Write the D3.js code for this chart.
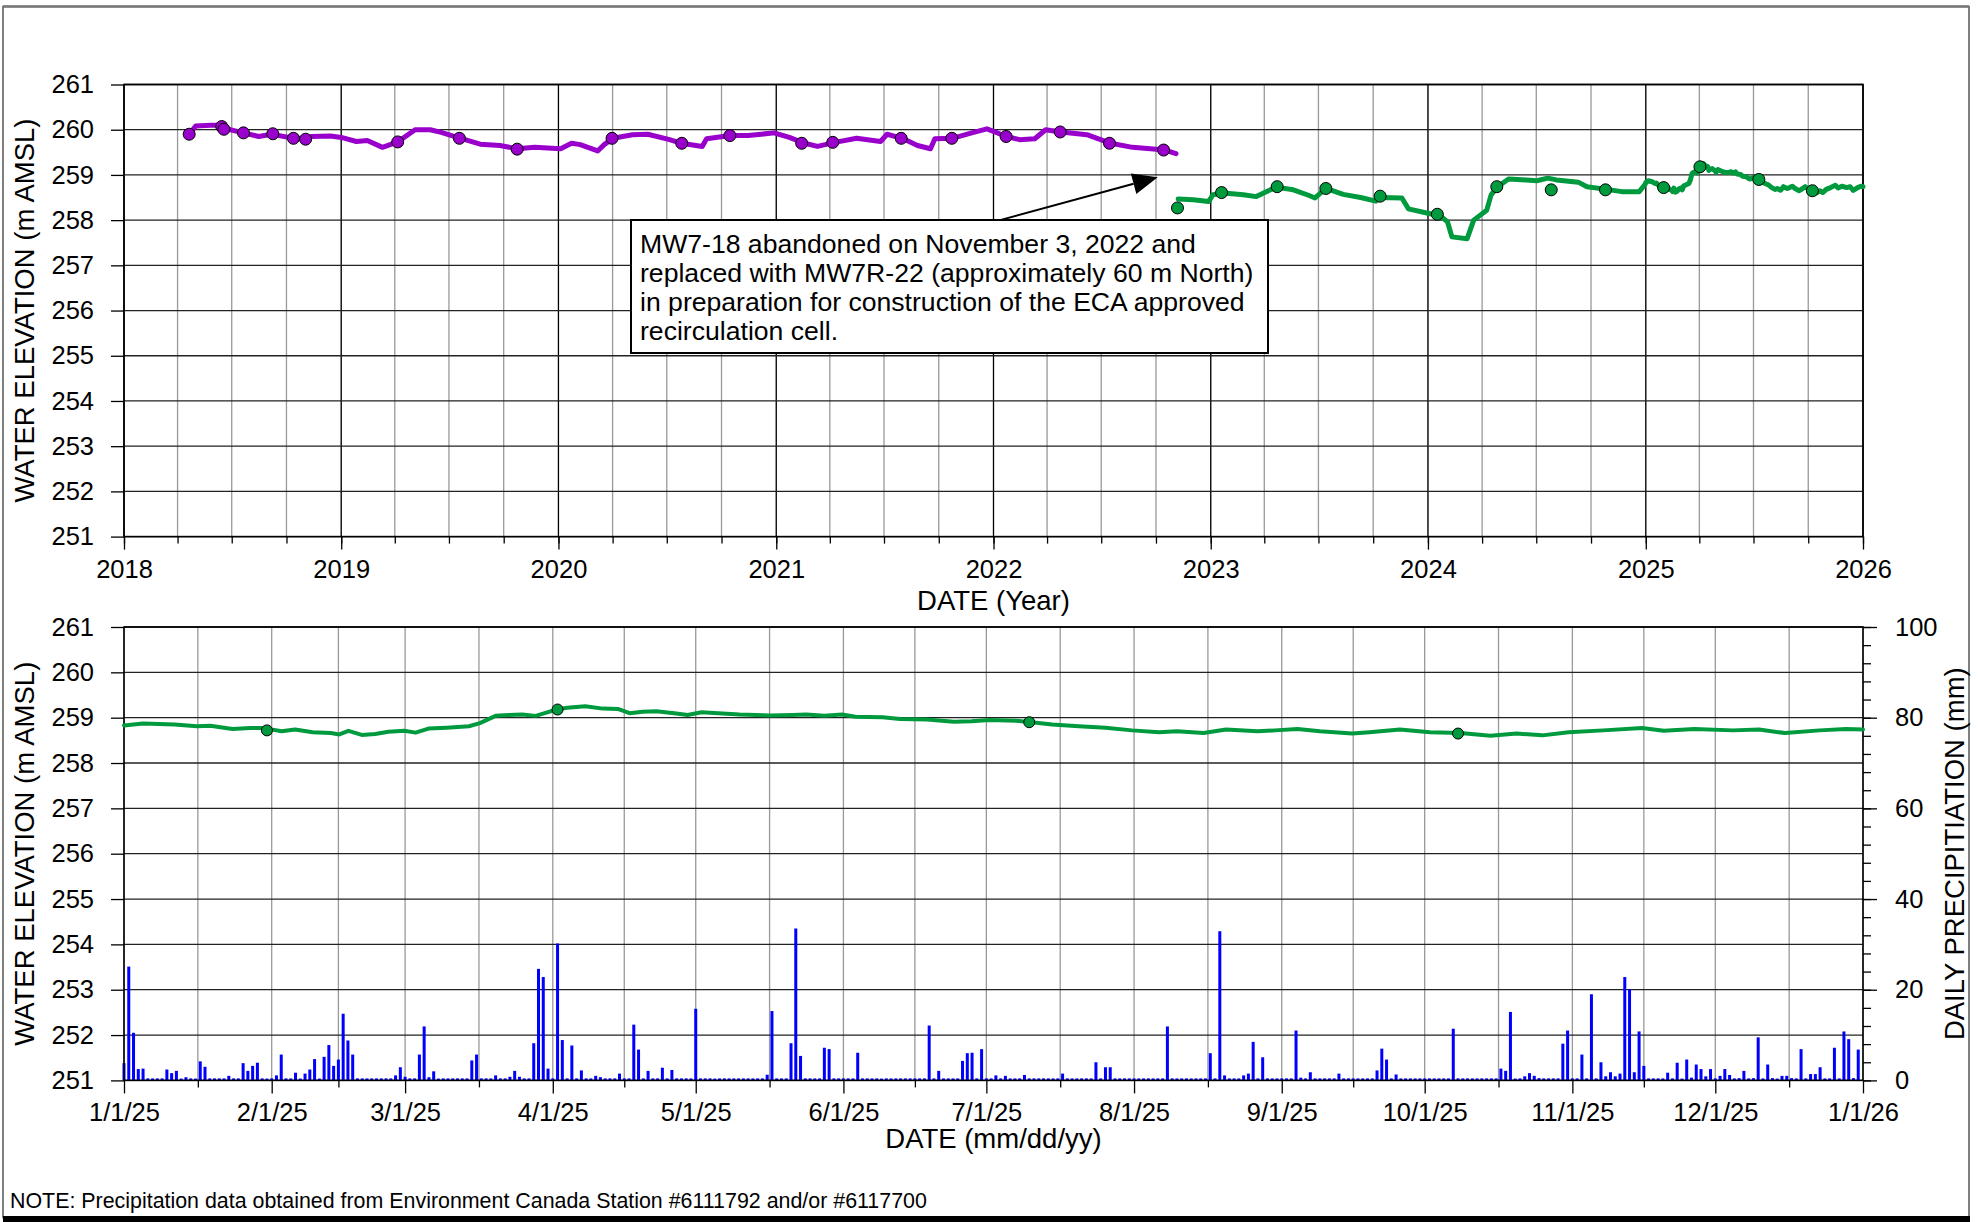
<!DOCTYPE html>
<html>
<head>
<meta charset="utf-8">
<script src="https://cdn.jsdelivr.net/npm/d3@7"></script>
<style>
  body { margin: 0; background: #fff; }
  text { font-family: "Liberation Sans", Arial, sans-serif; fill: #000; }
</style>
</head>
<body>
<svg id="chart" width="1979" height="1222"></svg>
<script>
// ---- data ----
// MW7-18 (decimal year, m AMSL)
var mw7Years = [2018.30, 2018.33, 2018.40, 2018.45, 2018.47, 2018.55, 2018.62, 2018.68, 2018.77, 2018.83,
    2018.86, 2018.95, 2019.00, 2019.07, 2019.12, 2019.19, 2019.26, 2019.34, 2019.41, 2019.46,
    2019.55, 2019.64, 2019.73, 2019.81, 2019.89, 2020.01, 2020.06, 2020.10, 2020.18, 2020.21,
    2020.25, 2020.34, 2020.41, 2020.51, 2020.565, 2020.66, 2020.68, 2020.79, 2020.87, 2020.99,
    2021.06, 2021.13, 2021.19, 2021.27, 2021.37, 2021.48, 2021.51, 2021.58, 2021.65, 2021.71,
    2021.73, 2021.81, 2021.90, 2021.97, 2022.06, 2022.12, 2022.19, 2022.24, 2022.31, 2022.43,
    2022.54, 2022.64, 2022.79, 2022.84];
var mw7Levels = [259.90, 260.08, 260.10, 260.10, 260.02, 259.93, 259.85, 259.90, 259.82, 259.80,
    259.85, 259.86, 259.83, 259.74, 259.76, 259.61, 259.73, 260.00, 260.00, 259.94,
    259.81, 259.68, 259.65, 259.58, 259.61, 259.58, 259.70, 259.67, 259.53, 259.67,
    259.81, 259.89, 259.90, 259.78, 259.70, 259.63, 259.80, 259.87, 259.87, 259.93,
    259.83, 259.70, 259.63, 259.72, 259.81, 259.74, 259.90, 259.81, 259.65, 259.58,
    259.80, 259.81, 259.93, 260.02, 259.85, 259.78, 259.80, 260.00, 259.95, 259.89,
    259.70, 259.61, 259.55, 259.47];
var mw7MarkYears = [2018.30, 2018.45, 2018.46, 2018.55, 2018.685, 2018.78, 2018.836, 2019.26, 2019.544, 2019.81,
    2020.246, 2020.566, 2020.787, 2021.117, 2021.26, 2021.575, 2021.808, 2022.058, 2022.307, 2022.534, 2022.783];
var mw7MarkLevels = [259.90, 260.07, 260.01, 259.93, 259.91, 259.81, 259.79, 259.73, 259.81, 259.57,
    259.81, 259.70, 259.87, 259.70, 259.72, 259.81, 259.81, 259.85, 259.95, 259.70, 259.55];

// MW7R-22 before 2025 (decimal year, m AMSL)
var mw7rYears = [2022.85, 2022.92, 2022.99, 2023.01, 2023.06, 2023.15, 2023.21, 2023.30, 2023.38, 2023.45,
    2023.48, 2023.53, 2023.61, 2023.69, 2023.76, 2023.78, 2023.88, 2023.91, 2024.01, 2024.05,
    2024.09, 2024.11, 2024.18, 2024.21, 2024.27, 2024.29, 2024.32, 2024.37, 2024.45, 2024.50,
    2024.55, 2024.59, 2024.69, 2024.73, 2024.82, 2024.89, 2024.97, 2024.998];
var mw7rLevels = [258.47, 258.45, 258.41, 258.56, 258.60, 258.56, 258.52, 258.73, 258.67, 258.55,
    258.49, 258.70, 258.57, 258.50, 258.42, 258.50, 258.49, 258.25, 258.14, 258.12,
    257.96, 257.63, 257.59, 258.00, 258.22, 258.56, 258.74, 258.91, 258.89, 258.87,
    258.93, 258.89, 258.84, 258.74, 258.68, 258.63, 258.63, 258.80];
var mw7rMarkYears = [2022.847, 2023.05, 2023.306, 2023.53, 2023.78, 2024.043, 2024.316, 2024.566, 2024.815];
var mw7rMarkLevels = [258.27, 258.61, 258.74, 258.70, 258.53, 258.13, 258.74, 258.67, 258.67];

// MW7R-22 in 2025 (days after 1/1/25, m AMSL)
var levelDays = [0, 4, 10.6, 15.3, 18.1, 22.8, 26.5, 29.3, 33.1, 35.9, 39.6, 43.4, 45.2, 47.1, 49.9, 52.7,
    55.5, 58.8, 61.2, 63.9, 67.7, 72.4, 74.7, 78, 80.8, 83.6, 86.4, 88.3, 90.8, 93, 96.8, 100.5,
    103.8, 106.1, 108.9, 111.7, 115.5, 118.3, 121.2, 129.2, 135.7, 140.4, 143.2, 147, 150.7, 153.5,
    159.2, 162.9, 168.5, 174.2, 177.9, 181.6, 187.3, 190.5, 194.8, 200.4, 206, 211.6, 217.2, 221,
    226.6, 231.3, 237.9, 241.6, 246.3, 251, 257.8, 261.4, 267.8, 274.1, 280.5, 286.8, 292.3, 297.7,
    303.2, 310.5, 318.6, 323.2, 329.6, 337.7, 343.2, 348.6, 355.9, 361.4, 365];
var levels2025 = [258.83, 258.87, 258.85, 258.81, 258.82, 258.75, 258.77, 258.77, 258.70, 258.74, 258.68, 258.66, 258.63, 258.71, 258.62, 258.64,
    258.69, 258.71, 258.67, 258.76, 258.78, 258.81, 258.88, 259.04, 259.06, 259.07, 259.04, 259.10, 259.18, 259.22, 259.25, 259.20,
    259.19, 259.10, 259.13, 259.14, 259.10, 259.06, 259.12, 259.07, 259.05, 259.06, 259.07, 259.04, 259.07, 259.02,
    259.01, 258.97, 258.96, 258.91, 258.92, 258.95, 258.93, 258.90, 258.85, 258.81, 258.78, 258.72, 258.68, 258.70,
    258.66, 258.74, 258.70, 258.72, 258.75, 258.70, 258.65, 258.68, 258.74, 258.68, 258.66, 258.60, 258.65, 258.61,
    258.68, 258.72, 258.77, 258.71, 258.75, 258.72, 258.74, 258.66, 258.72, 258.75, 258.74];
var markDays = [30, 91, 190, 280];
var markLevels2025 = [258.72, 259.18, 258.90, 258.65];

// daily precipitation 2025 (days after 1/1/25 with rain, mm); other days are 0
var rainDays = [0, 1, 2, 3, 4, 9, 10, 11, 12, 13, 15, 16, 17, 22, 25, 26, 27, 28, 30, 32, 33, 36, 37, 38, 39,
    40, 41, 42, 43, 44, 45, 46, 47, 48, 57, 58, 59, 62, 63, 64, 65, 66, 73, 74, 78, 81, 82, 83, 86, 87,
    88, 89, 91, 92, 94, 96, 99, 100, 104, 107, 108, 110, 113, 115, 120, 124, 135, 136, 140, 141, 142, 147,
    148, 154, 159, 169, 171, 176, 177, 178, 180, 183, 185, 189, 197, 204, 206, 207, 219, 228, 230, 231,
    235, 236, 237, 239, 246, 247, 249, 255, 263, 264, 265, 267, 279, 289, 290, 291, 292, 294, 295, 296,
    297, 302, 303, 306, 308, 310, 311, 312, 313, 314, 315, 316, 317, 318, 319, 324, 326, 327, 328, 329,
    330, 331, 332, 333, 335, 336, 337, 339, 340, 342, 343, 345, 346, 347, 348, 349, 350, 352, 354, 355,
    356, 359, 361, 362, 363, 364];
var rainMm = [3.8, 25.1, 10.5, 2.5, 2.6, 2.4, 1.6, 2.1, 0.4, 0.7, 0.4, 4.2, 3.0, 1.0, 3.8, 2.1, 3.2, 3.9, 0.4, 1.1, 5.7, 1.7, 0.4, 1.5, 2.4,
    4.7, 0.4, 5.2, 7.8, 3.2, 4.6, 14.7, 8.8, 5.7, 1.1, 2.9, 0.8, 5.7, 11.9, 0.7, 2.0, 0.4, 4.4, 5.7, 1.1, 0.8, 2.1, 0.8, 8.2, 24.6,
    22.8, 2.6, 30.2, 8.9, 7.7, 2.2, 1.0, 0.7, 1.5, 12.3, 6.8, 2.1, 2.8, 2.3, 15.8, 0.4, 1.25, 15.3, 8.2, 33.5, 5.4, 7.2,
    6.9, 6.1, 0.4, 12.1, 2.1, 4.3, 6.0, 6.1, 6.9, 1.1, 1.0, 1.2, 1.5, 4.0, 2.9, 2.9, 11.9, 6.0, 32.9, 1.1,
    1.1, 1.5, 8.5, 5.1, 11.0, 0.6, 1.8, 1.5, 2.2, 7.0, 4.6, 1.3, 11.4, 2.6, 2.1, 15.1, 0.4, 0.9, 1.6, 1.0,
    0.5, 8.1, 11.0, 5.7, 19.0, 4.0, 0.9, 1.8, 0.9, 1.5, 22.8, 20.1, 1.8, 10.8, 3.2, 1.7, 3.9, 0.4, 4.6, 0.6,
    3.5, 2.5, 0.9, 2.5, 1.0, 2.5, 1.2, 0.5, 2.1, 0.5, 9.5, 3.5, 0.5, 0.4, 1.0, 1.0, 0.5, 6.9, 1.4, 1.4,
    2.9, 7.2, 10.8, 9.1, 0.5, 6.8];

var noteLines = ["MW7-18 abandoned on November 3, 2022 and",
    "replaced with MW7R-22 (approximately 60 m North)",
    "in preparation for construction of the ECA approved",
    "recirculation cell."];

// ---- helpers ----
function yearToDate(y) {
    var y0 = Math.floor(y);
    var a = new Date(y0, 0, 1), b = new Date(y0 + 1, 0, 1);
    return new Date(+a + (y - y0) * (b - a));
}
var jan1 = new Date(2025, 0, 1);
function dayToDate(d) {
    return new Date(+jan1 + d * 864e5);
}
function pairs(xs, ys, f) {
    return xs.map(function (x, i) { return { date: f(x), v: ys[i] }; });
}

var purple = "#9900CC", green = "#009A3E";
var left = 124, right = 1863;
var top1 = 84.5, bot1 = 536.6;
var top2 = 627, bot2 = 1080.4;
var tickFont = "25.5px", titleFont = "27.5px";

var svg = d3.select("#chart");

// page frame
svg.append("rect")
    .attr("x", 3).attr("y", 6.5).attr("width", 1966).attr("height", 1211)
    .attr("fill", "none").attr("stroke", "#555").attr("stroke-width", 1.5);
svg.append("line")
    .attr("x1", 3).attr("x2", 1969).attr("y1", 6.5).attr("y2", 6.5)
    .attr("stroke", "#777").attr("stroke-width", 2.5);
svg.append("rect")
    .attr("x", 3).attr("y", 1216).attr("width", 1967).attr("height", 6).attr("fill", "#000");

// ================= top chart =================
var x1 = d3.scaleTime()
    .domain([new Date(2018, 0, 1), new Date(2026, 0, 1)])
    .range([left, right]);
var y1 = d3.scaleLinear().domain([251, 261]).range([bot1, top1]);

var g1 = svg.append("g");
var quarters = d3.timeMonth.every(3).range(new Date(2018, 0, 1), new Date(2026, 0, 2));
var years = d3.timeYear.range(new Date(2018, 0, 1), new Date(2026, 0, 2));

g1.selectAll(".vq").data(quarters).enter().append("line")
    .attr("x1", function (d) { return x1(d); }).attr("x2", function (d) { return x1(d); })
    .attr("y1", top1).attr("y2", bot1)
    .attr("stroke", "#999").attr("stroke-width", 1.3);
g1.selectAll(".vy").data(years).enter().append("line")
    .attr("x1", function (d) { return x1(d); }).attr("x2", function (d) { return x1(d); })
    .attr("y1", top1).attr("y2", bot1)
    .attr("stroke", "#000").attr("stroke-width", 1.2);
g1.selectAll(".h").data(y1.ticks(10)).enter().append("line")
    .attr("x1", left).attr("x2", right)
    .attr("y1", function (d) { return y1(d); }).attr("y2", function (d) { return y1(d); })
    .attr("stroke", "#222").attr("stroke-width", 1.3);

// axes
g1.append("g").attr("transform", "translate(0," + bot1 + ")")
    .call(d3.axisBottom(x1).tickValues(quarters).tickSize(7).tickFormat(""))
    .call(function (a) { a.select(".domain").remove(); });
g1.append("g").attr("transform", "translate(0," + bot1 + ")")
    .call(d3.axisBottom(x1).tickValues(years).tickSize(13).tickPadding(10).tickFormat(d3.timeFormat("%Y")))
    .call(function (a) { a.select(".domain").remove(); a.selectAll("text").style("font-size", tickFont); });
g1.append("g").attr("transform", "translate(" + left + ",0)")
    .call(d3.axisLeft(y1).ticks(10).tickSize(13).tickPadding(17).tickFormat(d3.format("d")))
    .call(function (a) { a.select(".domain").remove(); a.selectAll("text").style("font-size", tickFont); });
g1.selectAll(".tick line").attr("stroke", "#000").attr("stroke-width", 1.3);

g1.append("rect")
    .attr("x", left).attr("y", top1).attr("width", right - left).attr("height", bot1 - top1)
    .attr("fill", "none").attr("stroke", "#000").attr("stroke-width", 1.6);

var line1 = d3.line()
    .x(function (d) { return x1(d.date); })
    .y(function (d) { return y1(d.v); });

var mw7 = pairs(mw7Years, mw7Levels, yearToDate);
var mw7r = pairs(mw7rYears, mw7rLevels, yearToDate)
    .concat(pairs(levelDays, levels2025, dayToDate));

g1.append("path").datum(mw7).attr("d", line1)
    .attr("fill", "none").attr("stroke", purple).attr("stroke-width", 5)
    .attr("stroke-linejoin", "round").attr("stroke-linecap", "round");
g1.append("path").datum(mw7r).attr("d", line1)
    .attr("fill", "none").attr("stroke", green).attr("stroke-width", 5)
    .attr("stroke-linejoin", "round").attr("stroke-linecap", "round");

var mw7Marks = pairs(mw7MarkYears, mw7MarkLevels, yearToDate);
var mw7rMarks = pairs(mw7rMarkYears, mw7rMarkLevels, yearToDate)
    .concat(pairs(markDays, markLevels2025, dayToDate));

g1.selectAll(".m1").data(mw7Marks).enter().append("circle")
    .attr("cx", function (d) { return x1(d.date); }).attr("cy", function (d) { return y1(d.v); })
    .attr("r", 6).attr("fill", purple).attr("stroke", "#000").attr("stroke-width", 1);
g1.selectAll(".m2").data(mw7rMarks).enter().append("circle")
    .attr("cx", function (d) { return x1(d.date); }).attr("cy", function (d) { return y1(d.v); })
    .attr("r", 6).attr("fill", green).attr("stroke", "#000").attr("stroke-width", 1);

// titles
svg.append("text").attr("x", (left + right) / 2).attr("y", 610)
    .attr("text-anchor", "middle").style("font-size", titleFont).text("DATE (Year)");
svg.append("text").attr("transform", "translate(34," + (top1 + bot1) / 2 + ") rotate(-90)")
    .attr("text-anchor", "middle").style("font-size", titleFont).text("WATER ELEVATION (m AMSL)");

// annotation arrow + box
var tailX = x1(yearToDate(2022.03)), tailY = y1(258.0);
var tipX = x1(yearToDate(2022.756)), tipY = y1(258.95);
var dx = tipX - tailX, dy = tipY - tailY, len = Math.sqrt(dx * dx + dy * dy);
var ux = dx / len, uy = dy / len;
var headLen = 25, headW = 10.5;
var bx = tipX - ux * headLen, by = tipY - uy * headLen;
g1.append("line")
    .attr("x1", tailX).attr("y1", tailY).attr("x2", bx).attr("y2", by)
    .attr("stroke", "#000").attr("stroke-width", 2);
g1.append("polygon")
    .attr("points", [[tipX, tipY], [bx - uy * headW, by + ux * headW], [bx + uy * headW, by - ux * headW]].join(" "))
    .attr("fill", "#000");

g1.append("rect")
    .attr("x", 631).attr("y", 220).attr("width", 637).attr("height", 133)
    .attr("fill", "#fff").attr("stroke", "#000").attr("stroke-width", 2);
g1.selectAll(".note").data(noteLines).enter().append("text")
    .attr("x", 640).attr("y", function (d, i) { return 253 + i * 29; })
    .style("font-size", "26.6px").text(function (d) { return d; });

// ================= bottom chart =================
var x2 = d3.scaleTime().domain([jan1, new Date(2026, 0, 1)]).range([left, right]);
var y2 = d3.scaleLinear().domain([251, 261]).range([bot2, top2]);
var yP = d3.scaleLinear().domain([0, 100]).range([bot2, top2]);

var g2 = svg.append("g");
var months = d3.timeMonth.range(jan1, new Date(2026, 0, 2));
var midMonths = d3.timeMonth.range(jan1, new Date(2026, 0, 1)).map(function (m) {
    return new Date((+m + +d3.timeMonth.offset(m, 1)) / 2);
});

g2.selectAll(".vm").data(months.concat(midMonths)).enter().append("line")
    .attr("x1", function (d) { return x2(d); }).attr("x2", function (d) { return x2(d); })
    .attr("y1", top2).attr("y2", bot2)
    .attr("stroke", "#999").attr("stroke-width", 1.3);
g2.selectAll(".h").data(y2.ticks(10)).enter().append("line")
    .attr("x1", left).attr("x2", right)
    .attr("y1", function (d) { return y2(d); }).attr("y2", function (d) { return y2(d); })
    .attr("stroke", "#222").attr("stroke-width", 1.3);

g2.append("g").attr("transform", "translate(0," + bot2 + ")")
    .call(d3.axisBottom(x2).tickValues(midMonths).tickSize(7).tickFormat(""))
    .call(function (a) { a.select(".domain").remove(); });
g2.append("g").attr("transform", "translate(0," + bot2 + ")")
    .call(d3.axisBottom(x2).tickValues(months).tickSize(13).tickPadding(10).tickFormat(d3.timeFormat("%-m/%-d/%y")))
    .call(function (a) { a.select(".domain").remove(); a.selectAll("text").style("font-size", tickFont); });
g2.append("g").attr("transform", "translate(" + left + ",0)")
    .call(d3.axisLeft(y2).ticks(10).tickSize(13).tickPadding(17).tickFormat(d3.format("d")))
    .call(function (a) { a.select(".domain").remove(); a.selectAll("text").style("font-size", tickFont); });
g2.append("g").attr("transform", "translate(" + right + ",0)")
    .call(d3.axisRight(yP).tickValues(d3.range(0, 101, 4)).tickSize(8).tickFormat(""))
    .call(function (a) { a.select(".domain").remove(); });
g2.append("g").attr("transform", "translate(" + right + ",0)")
    .call(d3.axisRight(yP).tickValues(d3.range(0, 101, 20)).tickSize(14).tickPadding(18))
    .call(function (a) { a.select(".domain").remove(); a.selectAll("text").style("font-size", tickFont); });
g2.selectAll(".tick line").attr("stroke", "#000").attr("stroke-width", 1.3);

// precipitation bars, one per day
var rainByDay = new Map(rainDays.map(function (d, i) { return [d, rainMm[i]]; }));
var daily = d3.range(0, 365).map(function (d) {
    return { date: dayToDate(d), mm: rainByDay.get(d) || 0 };
});
g2.selectAll(".bar").data(daily).enter().append("rect")
    .attr("x", function (d) { return x2(d.date) - 1.5; })
    .attr("width", 3)
    .attr("y", function (d) { return d.mm > 0 ? yP(d.mm) : bot2 - 2; })
    .attr("height", function (d) { return d.mm > 0 ? bot2 - yP(d.mm) : 2; })
    .attr("fill", "#0000FF");

g2.append("rect")
    .attr("x", left).attr("y", top2).attr("width", right - left).attr("height", bot2 - top2)
    .attr("fill", "none").attr("stroke", "#000").attr("stroke-width", 1.6);

var line2 = d3.line()
    .x(function (d) { return x2(d.date); })
    .y(function (d) { return y2(d.v); });
g2.append("path").datum(pairs(levelDays, levels2025, dayToDate)).attr("d", line2)
    .attr("fill", "none").attr("stroke", green).attr("stroke-width", 4)
    .attr("stroke-linejoin", "round").attr("stroke-linecap", "round");
g2.selectAll(".m3").data(pairs(markDays, markLevels2025, dayToDate)).enter().append("circle")
    .attr("cx", function (d) { return x2(d.date); }).attr("cy", function (d) { return y2(d.v); })
    .attr("r", 5.5).attr("fill", green).attr("stroke", "#000").attr("stroke-width", 1);

svg.append("text").attr("x", (left + right) / 2).attr("y", 1148)
    .attr("text-anchor", "middle").style("font-size", titleFont).text("DATE (mm/dd/yy)");
svg.append("text").attr("transform", "translate(34," + (top2 + bot2) / 2 + ") rotate(-90)")
    .attr("text-anchor", "middle").style("font-size", titleFont).text("WATER ELEVATION (m AMSL)");
svg.append("text").attr("transform", "translate(1964," + (top2 + bot2) / 2 + ") rotate(-90)")
    .attr("text-anchor", "middle").style("font-size", titleFont).text("DAILY PRECIPITIATION (mm)");

svg.append("text").attr("x", 10).attr("y", 1208)
    .style("font-size", "21.4px")
    .text("NOTE: Precipitation data obtained from Environment Canada Station #6111792 and/or #6117700");
</script>
</body>
</html>
